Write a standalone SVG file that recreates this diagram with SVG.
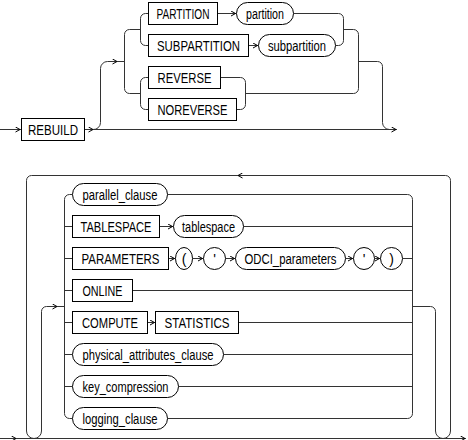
<svg xmlns="http://www.w3.org/2000/svg" width="468" height="440" viewBox="0 0 468 440">
<style>
.b{fill:#fff;stroke:#000;stroke-width:1}
.r{fill:none;stroke:#333;stroke-width:1}
.t{font-family:"Liberation Sans",Arial,sans-serif;font-size:14px;text-anchor:middle;fill:#000}
</style>
<defs>
<marker id="a" viewBox="0 0 7 6" refX="6.5" refY="3" markerWidth="7" markerHeight="6" orient="auto" markerUnits="userSpaceOnUse">
<path d="M1,0.5 L5.5,3 L1,5.5" fill="none" stroke="#000" stroke-width="1"/>
</marker>
</defs>
<rect width="468" height="440" fill="#fff"/>
<g id="connectors">
<!-- top diagram -->
<path class="r" d="M0,129.5 H21" marker-end="url(#a)"/>
<path class="r" d="M84.5,129.5 H94" marker-end="url(#a)"/>
<path class="r" d="M94,129.5 H397" marker-end="url(#a)"/>
<path class="r" d="M93,129.5 A7,7 0 0 0 100.5,122.5 V68.5 A7,7 0 0 1 107.5,61.5 H118" marker-end="url(#a)"/>
<path class="r" d="M118,61.5 H124.5"/>
<path class="r" d="M140.5,29.5 H129.5 A5,5 0 0 0 124.5,34.5 V88.5 A5,5 0 0 0 129.5,93.5 H140.5"/>
<path class="r" d="M148.5,13.5 H145.5 A5,5 0 0 0 140.5,18.5 V40.5 A5,5 0 0 0 145.5,45.5 H148.5"/>
<path class="r" d="M148.5,77.5 H145.5 A5,5 0 0 0 140.5,82.5 V104.5 A5,5 0 0 0 145.5,109.5 H148.5"/>
<path class="r" d="M217.5,13.5 H236.5" marker-end="url(#a)"/>
<path class="r" d="M293.5,13.5 H338.5 A5,5 0 0 1 343.5,18.5 V40.5 A5,5 0 0 1 338.5,45.5 H335.5"/>
<path class="r" d="M248.5,45.5 H258.5" marker-end="url(#a)"/>
<path class="r" d="M343.5,29.5 H353.5 A5,5 0 0 1 358.5,34.5 V88.5 A5,5 0 0 1 353.5,93.5 H245.5"/>
<path class="r" d="M220.5,77.5 H240.5 A5,5 0 0 1 245.5,82.5 V104.5 A5,5 0 0 1 240.5,109.5 H236.5"/>
<path class="r" d="M358.5,61.5 H377.5 A5,5 0 0 1 382.5,66.5 V122.5 A7,7 0 0 0 389.5,129.5"/>
<!-- bottom diagram -->
<path class="r" d="M0,438.5 H17" marker-end="url(#a)"/>
<path class="r" d="M17,438.5 H466" marker-end="url(#a)"/>
<path class="r" d="M412.5,306.5 H430.5 A5,5 0 0 1 435.5,311.5 V431 A7.5,7.5 0 0 0 450.5,431 V180.5 A5,5 0 0 0 445.5,175.5 H237" marker-end="url(#a)"/>
<path class="r" d="M237,175.5 H31.5 A5,5 0 0 0 26.5,180.5 V431 A7.5,7.5 0 0 0 41.5,431 V311.5 A5,5 0 0 1 46.5,306.5 H58" marker-end="url(#a)"/>
<path class="r" d="M58,306.5 H64.5"/>
<path class="r" d="M72.5,194.5 H69.5 A5,5 0 0 0 64.5,199.5 V413.5 A5,5 0 0 0 69.5,418.5 H72.5"/>
<path class="r" d="M64.5,226.5 H72.5 M64.5,258.5 H72.5 M64.5,290.5 H72.5 M64.5,322.5 H72.5 M64.5,354.5 H72.5 M64.5,386.5 H72.5"/>
<path class="r" d="M167.5,194.5 H407.5 A5,5 0 0 1 412.5,199.5 V413.5 A5,5 0 0 1 407.5,418.5 H167.5"/>
<path class="r" d="M159.5,226.5 H173.5" marker-end="url(#a)"/>
<path class="r" d="M243.5,226.5 H412.5"/>
<path class="r" d="M168.5,258.5 H175.5" marker-end="url(#a)"/>
<path class="r" d="M192.5,258.5 H203.5" marker-end="url(#a)"/>
<path class="r" d="M225.5,258.5 H235.5" marker-end="url(#a)"/>
<path class="r" d="M345.5,258.5 H353.5" marker-end="url(#a)"/>
<path class="r" d="M374.5,258.5 H380.5" marker-end="url(#a)"/>
<path class="r" d="M402.5,258.5 H412.5"/>
<path class="r" d="M132.5,290.5 H412.5"/>
<path class="r" d="M147.5,322.5 H155.5" marker-end="url(#a)"/>
<path class="r" d="M238.5,322.5 H412.5"/>
<path class="r" d="M223.5,354.5 H412.5"/>
<path class="r" d="M178.5,386.5 H412.5"/>
</g>
<g id="n-rebuild"><rect class="b" x="21.5" y="118.5" width="63" height="22"/><text class="t" x="53" y="134.5" textLength="50" lengthAdjust="spacingAndGlyphs">REBUILD</text></g>
<g id="n-PARTITION"><rect class="b" x="148.5" y="2.5" width="69" height="22"/><text class="t" x="183" y="18.5" textLength="53" lengthAdjust="spacingAndGlyphs">PARTITION</text></g>
<g id="n-partition"><rect class="b" x="236.5" y="2.5" width="57" height="22" rx="11"/><text class="t" x="265" y="18.5" textLength="38" lengthAdjust="spacingAndGlyphs">partition</text></g>
<g id="n-SUBPARTITION"><rect class="b" x="148.5" y="34.5" width="100" height="22"/><text class="t" x="198.5" y="50.5" textLength="83" lengthAdjust="spacingAndGlyphs">SUBPARTITION</text></g>
<g id="n-subpartition"><rect class="b" x="258.5" y="34.5" width="77" height="22" rx="11"/><text class="t" x="297" y="50.5" textLength="58" lengthAdjust="spacingAndGlyphs">subpartition</text></g>
<g id="n-REVERSE"><rect class="b" x="148.5" y="66.5" width="72" height="22"/><text class="t" x="184.5" y="82.5" textLength="54" lengthAdjust="spacingAndGlyphs">REVERSE</text></g>
<g id="n-NOREVERSE"><rect class="b" x="148.5" y="98.5" width="88" height="22"/><text class="t" x="192.5" y="114.5" textLength="70" lengthAdjust="spacingAndGlyphs">NOREVERSE</text></g>
<g id="n-parallel_clause"><rect class="b" x="72.5" y="183.5" width="95" height="22" rx="11"/><text class="t" x="120" y="199.5" textLength="75" lengthAdjust="spacingAndGlyphs">parallel_clause</text></g>
<g id="n-TABLESPACE"><rect class="b" x="72.5" y="215.5" width="87" height="22"/><text class="t" x="116" y="231.5" textLength="71" lengthAdjust="spacingAndGlyphs">TABLESPACE</text></g>
<g id="n-tablespace"><rect class="b" x="173.5" y="215.5" width="70" height="22" rx="11"/><text class="t" x="208.5" y="231.5" textLength="53" lengthAdjust="spacingAndGlyphs">tablespace</text></g>
<g id="n-PARAMETERS"><rect class="b" x="72.5" y="247.5" width="96" height="22"/><text class="t" x="120.5" y="263.5" textLength="78" lengthAdjust="spacingAndGlyphs">PARAMETERS</text></g>
<g id="n-lparen"><rect class="b" x="175.5" y="247.5" width="17" height="22" rx="8.5" ry="11"/><text class="t" x="184" y="263.5">(</text></g>
<g id="n-quote1"><rect class="b" x="203.5" y="247.5" width="22" height="22" rx="11"/><text class="t" x="214.5" y="263.5">'</text></g>
<g id="n-ODCI_parameters"><rect class="b" x="235.5" y="247.5" width="110" height="22" rx="11"/><text class="t" x="290.5" y="263.5" textLength="92" lengthAdjust="spacingAndGlyphs">ODCI_parameters</text></g>
<g id="n-quote2"><rect class="b" x="353.5" y="247.5" width="21" height="22" rx="10.5" ry="11"/><text class="t" x="364" y="263.5">'</text></g>
<g id="n-rparen"><rect class="b" x="380.5" y="247.5" width="22" height="22" rx="11"/><text class="t" x="391.5" y="263.5">)</text></g>
<g id="n-ONLINE"><rect class="b" x="72.5" y="279.5" width="60" height="22"/><text class="t" x="102.5" y="295.5" textLength="40" lengthAdjust="spacingAndGlyphs">ONLINE</text></g>
<g id="n-COMPUTE"><rect class="b" x="72.5" y="311.5" width="75" height="22"/><text class="t" x="110" y="327.5" textLength="56" lengthAdjust="spacingAndGlyphs">COMPUTE</text></g>
<g id="n-STATISTICS"><rect class="b" x="155.5" y="311.5" width="83" height="22"/><text class="t" x="197" y="327.5" textLength="65" lengthAdjust="spacingAndGlyphs">STATISTICS</text></g>
<g id="n-physical_attributes_clause"><rect class="b" x="72.5" y="343.5" width="151" height="22" rx="11"/><text class="t" x="148" y="359.5" textLength="131" lengthAdjust="spacingAndGlyphs">physical_attributes_clause</text></g>
<g id="n-key_compression"><rect class="b" x="72.5" y="375.5" width="106" height="22" rx="11"/><text class="t" x="125.5" y="391.5" textLength="86" lengthAdjust="spacingAndGlyphs">key_compression</text></g>
<g id="n-logging_clause"><rect class="b" x="72.5" y="407.5" width="95" height="22" rx="11"/><text class="t" x="120" y="423.5" textLength="75" lengthAdjust="spacingAndGlyphs">logging_clause</text></g>
</svg>
